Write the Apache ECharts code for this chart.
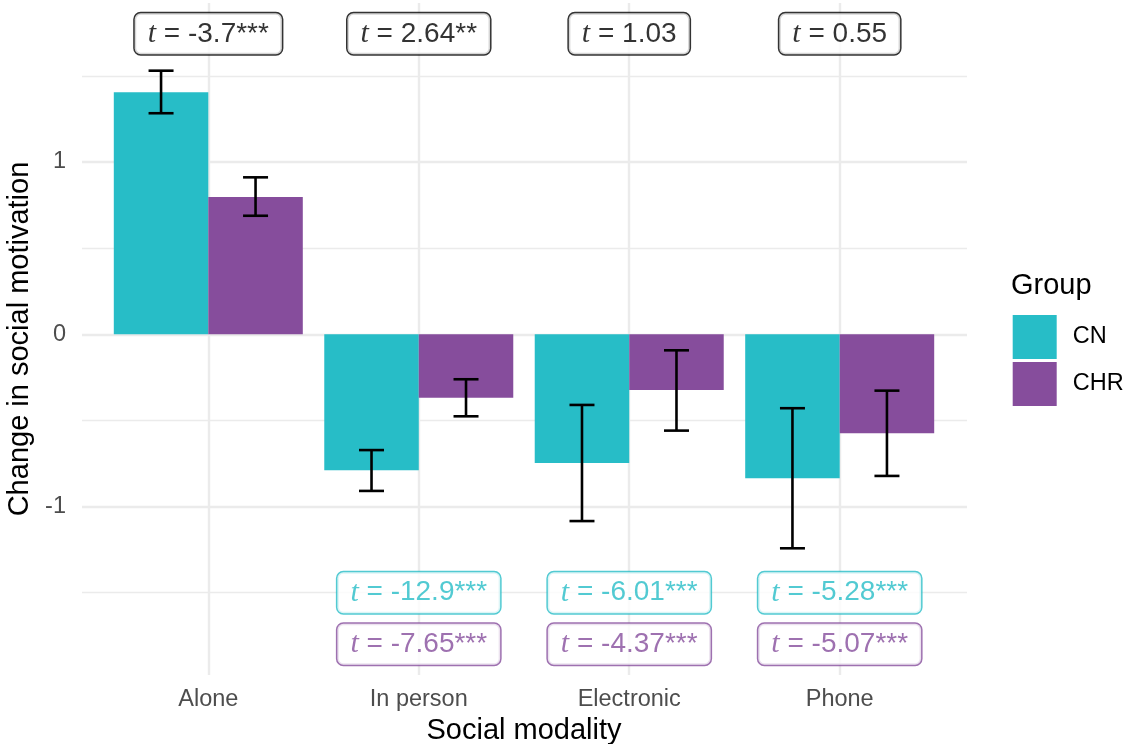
<!DOCTYPE html>
<html>
<head>
<meta charset="utf-8">
<script src="https://cdn.jsdelivr.net/npm/echarts@6/dist/echarts.min.js"></script>
<style>
  html, body { margin: 0; padding: 0; background: #fff; }
  #chart { width: 1127px; height: 744px; }
</style>
</head>
<body>
<div id="chart"></div>
<script>
// social modality categories
const modalities = ['Alone', 'In person', 'Electronic', 'Phone']
const groups = ['CN', 'CHR']
// mean change and error bar limits
const cnMean = [1.405, -0.789, -0.747, -0.836]
const cnLow = [1.283, -0.909, -1.084, -1.242]
const cnHigh = [1.530, -0.672, -0.410, -0.429]
const chrMean = [0.797, -0.368, -0.323, -0.575]
const chrLow = [0.688, -0.476, -0.559, -0.822]
const chrHigh = [0.911, -0.261, -0.093, -0.327]
// t statistics
const tBetween = ['-3.7***', '2.64**', '1.03', '0.55']
const tCN = ['', '-12.9***', '-6.01***', '-5.28***']
const tCHR = ['', '-7.65***', '-4.37***', '-5.07***']
// y axis ticks
const yLabels = [-1, 0, 1]
const yMajor = [-1, 0, 1]
const yMinor = [-1.5, -0.5, 0.5, 1.5]
const yMin = -1.9774
const yMax = 1.9228

const colors = { CN: '#27BDC7', CHR: '#864D9C' }
const barW = 94.5
const gridColor = '#EBEBEB'

function errSeries(name, lo, hi, dx) {
  return {
    type: 'custom',
    name: name + ' err',
    xAxisIndex: 1,
    yAxisIndex: 1,
    clip: false,
    z: 5,
    data: modalities.map((m, i) => [i, lo[i], hi[i]]),
    renderItem: function(params, api) {
      const a = api.coord([api.value(0), api.value(1)])
      const b = api.coord([api.value(0), api.value(2)])
      const x = a[0] + dx
      const w = 12.5
      const st = { stroke: '#000', lineWidth: 2.6, fill: null }
      return {
        type: 'group',
        children: [
          { type: 'line', shape: { x1: x, y1: a[1], x2: x, y2: b[1] }, style: st },
          { type: 'line', shape: { x1: x - w, y1: a[1], x2: x + w, y2: a[1] }, style: st },
          { type: 'line', shape: { x1: x - w, y1: b[1], x2: x + w, y2: b[1] }, style: st }
        ]
      }
    }
  }
}

function tLabelSeries(labels, yVal, color) {
  const data = []
  labels.forEach((t, i) => { if (t) data.push([i, yVal, t]) })
  return {
    type: 'scatter',
    xAxisIndex: 1,
    yAxisIndex: 1,
    symbolSize: 1,
    clip: false,
    z: 10,
    itemStyle: { color: 'rgba(0,0,0,0)' },
    silent: true,
    data: data,
    label: {
      show: true,
      position: 'inside',
      formatter: p => '{i|t}{n| = ' + p.value[2] + '}',
      backgroundColor: '#fff',
      borderColor: color,
      borderWidth: 1.5,
      borderRadius: 6,
      padding: [6, 13, 6, 13],
      rich: {
        i: { fontFamily: 'Liberation Serif', fontStyle: 'italic', fontSize: 30, color: color, lineHeight: 29 },
        n: { fontFamily: 'Liberation Sans', fontSize: 28, color: color, lineHeight: 29 }
      }
    }
  }
}

function gridLineSeries(values, width) {
  return {
    type: 'line',
    xAxisIndex: 0,
    yAxisIndex: 0,
    data: [],
    z: 0,
    silent: true,
    markLine: {
      silent: true,
      z: 0,
      symbol: ['none', 'none'],
      label: { show: false },
      lineStyle: { color: gridColor, width: width, type: 'solid' },
      data: values.map(v => ({ yAxis: v }))
    }
  }
}

const chart = echarts.init(document.getElementById('chart'))
const option = {
  animation: false,
  backgroundColor: '#fff',
  textStyle: { fontFamily: 'Liberation Sans' },
  title: {
    text: 'Group',
    left: 1011,
    top: 271,
    padding: 0,
    textStyle: { fontSize: 29, fontWeight: 'normal', color: '#000', fontFamily: 'Liberation Sans' }
  },
  legend: {
    data: groups,
    orient: 'vertical',
    left: 1012.7,
    top: 315,
    padding: 0,
    itemWidth: 44,
    itemHeight: 44,
    itemGap: 3,
    icon: 'rect',
    textStyle: { fontSize: 23.5, color: '#000', padding: [0, 0, 0, 11] }
  },
  grid: [
    { left: 82, width: 885, top: 3, height: 672, outerBoundsMode: 'none' },
    { left: 208.3, width: 631.4, top: 3, height: 672, outerBoundsMode: 'none' }
  ],
  xAxis: [
    { type: 'value', gridIndex: 0, min: 0, max: 1, show: false },
    {
      type: 'category',
      gridIndex: 1,
      data: modalities,
      boundaryGap: false,
      axisLine: { show: false, onZero: false },
      axisTick: { show: false },
      axisLabel: { interval: 0, margin: 13, fontSize: 23.5, color: '#4D4D4D' },
      splitLine: { show: true, interval: 0, lineStyle: { color: gridColor, width: 2.4 } },
      name: 'Social modality',
      nameLocation: 'middle',
      nameGap: 40,
      nameTextStyle: { fontSize: 29, color: '#000' }
    }
  ],
  yAxis: [
    {
      type: 'value',
      gridIndex: 0,
      min: yMin,
      max: yMax,
      axisLine: { show: false },
      axisTick: { show: false },
      axisLabel: { customValues: yLabels, margin: 16, fontSize: 23.5, color: '#4D4D4D' },
      splitLine: { show: false },
      name: 'Change in social motivation',
      nameLocation: 'middle',
      nameGap: 43,
      nameTextStyle: { fontSize: 29, color: '#000' }
    },
    { type: 'value', gridIndex: 1, min: yMin, max: yMax, show: false }
  ],
  series: [
    gridLineSeries(yMinor, 1.4),
    gridLineSeries(yMajor, 2.4),
    {
      name: 'CN',
      type: 'bar',
      xAxisIndex: 1,
      yAxisIndex: 1,
      barWidth: barW,
      barGap: '0%',
      clip: false,
      z: 2,
      itemStyle: { color: colors.CN },
      data: cnMean
    },
    {
      name: 'CHR',
      type: 'bar',
      xAxisIndex: 1,
      yAxisIndex: 1,
      barWidth: barW,
      barGap: '0%',
      clip: false,
      z: 2,
      itemStyle: { color: colors.CHR },
      data: chrMean
    },
    errSeries('CN', cnLow, cnHigh, -barW / 2),
    errSeries('CHR', chrLow, chrHigh, barW / 2),
    tLabelSeries(tBetween, 1.744, '#000'),
    tLabelSeries(tCN, -1.5, colors.CN),
    tLabelSeries(tCHR, -1.799, colors.CHR)
  ]
}
chart.setOption(option)
</script>
</body>
</html>
